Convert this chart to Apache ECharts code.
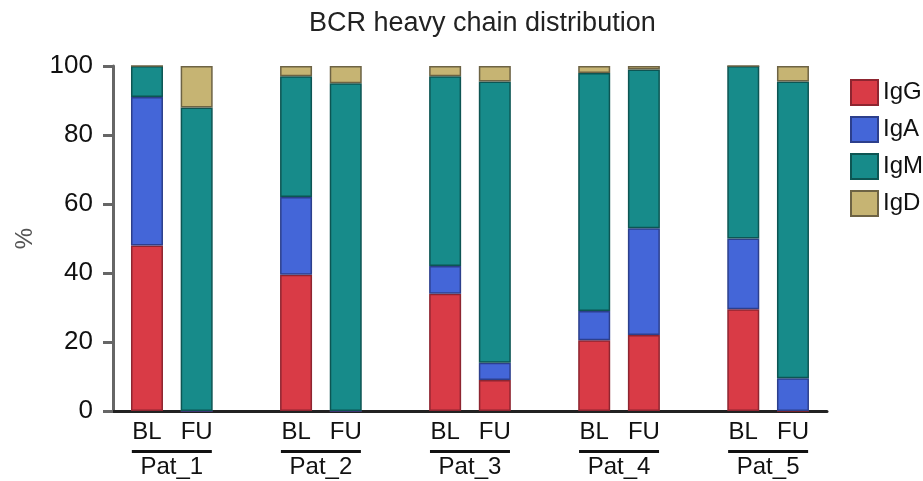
<!DOCTYPE html>
<html>
<head>
<meta charset="utf-8">
<script src="https://cdn.jsdelivr.net/npm/echarts@6/dist/echarts.min.js"></script>
<style>
  html, body { margin: 0; padding: 0; background: #fff; }
  #chart { width: 923px; height: 481px; }
</style>
</head>
<body>
<div id="chart"></div>
<script>
// Patients and visits (baseline / follow-up)
const patients = ['Pat_1', 'Pat_2', 'Pat_3', 'Pat_4', 'Pat_5'];
const visits = ['BL', 'FU'];

// Heavy-chain isotype shares in %, ordered Pat_1 BL, Pat_1 FU, Pat_2 BL, ...
const isotypes = ['IgG', 'IgA', 'IgM', 'IgD'];
const IgG = [48, 0, 39.5, 0, 34, 9, 20.5, 22, 29.5, 0];
const IgA = [43, 0, 22.5, 0, 8, 5, 8.5, 31, 20.5, 9.5];
const IgM = [9, 88, 35, 95, 55, 81.5, 69, 46, 50, 86];
const IgD = [0, 12, 3, 5, 3, 4.5, 2, 1, 0, 4.5];

const yTicks = [0, 20, 40, 60, 80, 100];

// Each patient occupies three slots on the x axis: BL, FU, and a spacer.
const slotsPerPatient = 3;
const samples = [];
patients.forEach((p, pi) => {
  visits.forEach((v, vi) => {
    samples.push({ patient: p, visit: v, slot: pi * slotsPerPatient + vi });
  });
});
const sampleSlots = samples.map(s => s.slot);
const groupCenters = patients.map((p, pi) => pi * slotsPerPatient + (visits.length - 1) / 2);

const visitBySlot = {};
samples.forEach(s => { visitBySlot[s.slot] = s.visit; });
const patientByCenter = {};
groupCenters.forEach((c, i) => { patientByCenter[c] = patients[i]; });

const seriesValues = { IgG, IgA, IgM, IgD };
const palette = {
  IgG: { fill: '#d93b46', edge: '#8e2530' },
  IgA: { fill: '#4466d8', edge: '#2c3f8c' },
  IgM: { fill: '#178b8a', edge: '#0d5553' },
  IgD: { fill: '#c6b473', edge: '#6d6344' }
};

const font = "'Liberation Sans', Arial, Helvetica, sans-serif";
const xMin = -0.684, xMax = 13.685;

const chart = echarts.init(document.getElementById('chart'), null, { renderer: 'canvas' });

chart.setOption({
  animation: false,
  backgroundColor: '#fff',
  textStyle: { fontFamily: font },
  title: {
    text: 'BCR heavy chain distribution',
    left: 304,
    top: 5,
    textStyle: { fontSize: 27, fontWeight: 'normal', color: '#222', fontFamily: font }
  },
  legend: {
    data: isotypes,
    orient: 'vertical',
    left: 845,
    top: 74,
    itemWidth: 27,
    itemHeight: 25,
    itemGap: 10,
    icon: 'rect',
    textStyle: { fontSize: 24, color: '#111', fontFamily: font }
  },
  grid: { left: 113, right: 96, top: 66, bottom: 70, containLabel: false },
  xAxis: [
    {
      type: 'value',
      min: xMin,
      max: xMax,
      splitLine: { show: false },
      axisTick: { show: false },
      axisLine: { show: true, onZero: false, lineStyle: { color: '#222', width: 3 } },
      axisLabel: {
        customValues: sampleSlots,
        formatter: v => visitBySlot[v] || '',
        margin: 8,
        fontSize: 24,
        lineHeight: 26,
        color: '#111',
        fontFamily: font
      }
    },
    {
      type: 'value',
      min: xMin,
      max: xMax,
      position: 'bottom',
      splitLine: { show: false },
      axisTick: { show: false },
      axisLine: { show: false },
      axisLabel: {
        customValues: groupCenters,
        formatter: v => '{u|}\n{p|' + (patientByCenter[v] || '') + '}',
        margin: 39,
        rich: {
          u: { width: 80, height: 3, backgroundColor: '#111' },
          p: { fontSize: 24, lineHeight: 26, color: '#111', fontFamily: font, padding: [2, 0, 0, 0] }
        }
      }
    }
  ],
  yAxis: {
    type: 'value',
    min: 0,
    max: 100,
    interval: 20,
    name: '%',
    nameLocation: 'middle',
    nameRotate: 90,
    nameGap: 76,
    nameTextStyle: { fontSize: 24, color: '#555', fontFamily: font },
    splitLine: { show: false },
    axisLine: { show: true, onZero: false, lineStyle: { color: '#666', width: 3 } },
    axisTick: { show: true, length: 10, lineStyle: { color: '#666', width: 3 } },
    axisLabel: {
      margin: 20,
      fontSize: 26,
      color: '#111',
      fontFamily: font,
      customValues: yTicks
    }
  },
  // Values come first in each data item so the stack is taken on the y dimension.
  series: isotypes.map(name => ({
    name,
    type: 'bar',
    stack: 'total',
    xAxisIndex: 0,
    barWidth: 32,
    encode: { x: 1, y: 0 },
    itemStyle: {
      color: palette[name].fill,
      borderColor: palette[name].edge,
      borderWidth: 1.5
    },
    data: samples.map((s, i) => [seriesValues[name][i], s.slot])
  }))
});
</script>
</body>
</html>
